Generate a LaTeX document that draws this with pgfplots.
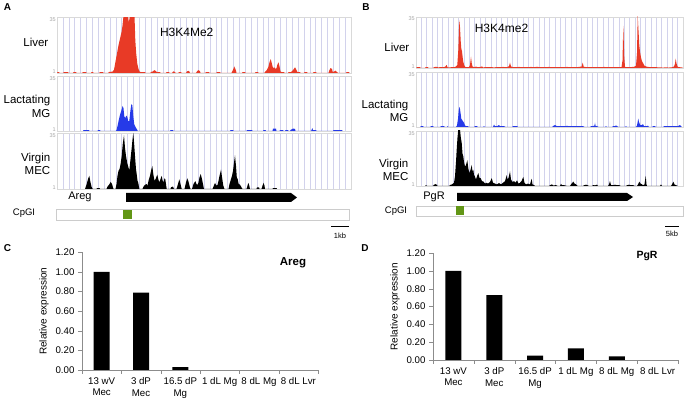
\documentclass[border=0pt]{standalone}
\usepackage{fontspec}
\setmainfont{Liberation Sans}
\usepackage{pgfplots}
\pgfplotsset{compat=1.18}
\definecolor{gridlav}{RGB}{210,210,236}
\definecolor{trkred}{RGB}{232,58,38}
\definecolor{trkblue}{RGB}{38,58,232}
\definecolor{cpggreen}{RGB}{98,150,22}
\pgfplotsset{
  track/.style={scale only axis, anchor=south west,
    ymin=0, ymax=34, ytick={1,32.6}, yticklabels={1,35},
    xticklabels={}, major tick length=0pt,
    axis line style={draw=black!15},
    xmajorgrids, grid style={draw=gridlav, line width=0.5pt},
    yticklabel style={font=\fontsize{5.5}{6}\selectfont, text=black!35, inner sep=1pt}},
  barax/.style={scale only axis, anchor=south west,
    xmin=-0.5, xmax=5.5, ymin=0, ymax=1.2,
    axis x line*=bottom, axis y line*=left,
    axis line style={draw=black!45,-},
    ytick={0,0.2,0.4,0.6,0.8,1.0,1.2},
    /pgf/number format/assume math mode=true,
    yticklabel style={/pgf/number format/fixed, /pgf/number format/fixed zerofill,
      /pgf/number format/precision=2, font=\fontsize{9.7}{11}\selectfont},
    tick align=outside, major tick length=4pt, tick style={draw=black!45},
    xtick={0,...,5},
    xticklabels={{13 wV\\Mec},{3 dP\\Mec},{16.5 dP\\Mg},{1 dL Mg},{8 dL Mg},{8 dL Lvr}},
    xticklabel style={align=center, font=\fontsize{9.7}{11.5}\selectfont},
    x tick style={draw=none},
    extra x ticks={-0.5,0.5,1.5,2.5,3.5,4.5,5.5}, extra x tick labels={},
    extra x tick style={x tick style={draw=black!45}},
    ylabel={Relative expression}, ylabel style={font=\fontsize{10}{12}\selectfont},
    ybar, bar width=16pt}
}
\begin{document}
\begin{tikzpicture}
\path[use as bounding box] (0,0) rectangle (687pt,403pt);

% ---------- panel A tracks ----------
\begin{axis}[track, at={(57pt,330pt)}, width=294pt, height=55.5pt,
  xmin=57, xmax=351, xtick={62.88,68.76,...,346}]
\addplot[fill=trkred, draw=none] coordinates {
(57,0)(57.5,0.6)(59,0.6)(59.5,0)(63,0)(64,0.6)(68,0.6)(68.5,0)
(73,0)(73.5,0.6)(76,0.6)(76.5,0)(82,0)(83,0.6)(86,0.6)(86.5,0)
(91,0)(91.5,0.6)(93,0.6)(93.5,0)(99,0)(100,0.6)(103,0.6)(103.5,0)
(108,0)(109,0.6)(112,0.8)
(112.5,0.8)(114,2)(115.5,7)(117,12)(118.5,17)(120,21)(121.5,25)(122.5,29)(123.5,35)
(128,35)(128.8,31)(130,35)(134.5,35)(135.3,20)(136.2,12)(137.3,5.6)(138.5,2.5)(139.5,1)
(140.5,0.6)(142,0.6)(145,0.6)(145.5,0)
(150,0)(151,0.6)(153,1)(154.5,1.8)(156,1)(157,0.6)(160,0.6)(160.5,0)
(166,0)(166.5,0.6)(169,0.6)(169.5,0)(172,0)(173.3,1)(175,0.6)(175.5,0)
(178,0)(179,0.6)(181,0.6)(181.5,0)(186,0)(187,1)(189,1.3)(190,0)
(196,0)(197,1)(198.5,1.8)(200,1)(200.5,0)(205,0)(206,0.6)(209,0.6)(209.5,0)
(216,0)(217,0.6)(220,0.6)(220.5,0)
(231.5,0)(232.7,1.5)(234.3,4)(236,1.5)(236.5,0)
(242,0)(242.5,0.6)(245,0.6)(245.5,0)(255,0)(255.5,0.6)(258,0.6)(258.5,0)
(264,0)(265,0.6)(267,2)(268.5,4)(269.5,6.5)(270.7,8.5)(272,5.5)(273,3)(274.3,3.5)
(275.5,2.5)(276.5,3)(277.3,5)(278.5,6.5)(279.5,4)(280.5,1)(281.5,0.6)(284,0.6)(284.5,0)
(288,0)(288.5,0.6)(291,0.6)(293.3,2)(295,3.5)(296.7,1.5)(297.5,0.6)(300,0.6)(300.5,0)
(304,0)(304.5,0.6)(307,0.6)(307.5,0)(313,0)(313.5,0.6)(316,0.6)(316.5,0)
(328.5,0)(329.3,1.5)(330.5,3)(332,2.5)(332.7,0.6)(334.5,1)(335.5,1.5)(337,0.6)(338,0)
(346,0)(346.5,0.6)(349,0.6)(349.5,0)
} \closedcycle;
\end{axis}

\begin{axis}[track, at={(57pt,272pt)}, width=294pt, height=55pt,
  xmin=57, xmax=351, xtick={62.88,68.76,...,346}]
\addplot[fill=trkblue, draw=none] coordinates {
(83,0)(83.5,0.6)(89,0.6)(89.5,0)(97.5,0)(98,0.6)(100,0.6)(100.5,0)
(115.5,0)(116.5,0.5)(117.5,3)(118.5,6)(120,10)(121.5,13)(122.7,15.5)(123.5,14)(124.3,9)
(125.3,8)(126.3,9.5)(127.3,8.7)(128.3,6)(129.3,6.2)(130.3,12)(131.3,16.5)(132.3,16)
(133.3,9)(134.3,4)(135.5,2.5)(136.5,1.5)(137.3,0.6)(137.8,0)
(170,0)(170.5,0.6)(173,0.6)(173.5,0)(230,0)(230.5,0.6)(233,0.6)(233.5,0)
(246.5,0)(247,0.6)(252,0.6)(252.5,0)(263,0)(263.5,0.6)(265.5,0.6)(266,0)
(272.5,0)(273,1.5)(276,1.5)(276.5,0)(279.5,0)(280,0.6)(283,0.6)(283.5,0)
(285,0)(285.5,0.6)(288,0.6)(288.5,0)(290,0)(290.5,0.6)(293,1.5)(295,1.3)(295.5,0)
(311,0)(311.5,0.6)(312.3,1.8)(313,0.6)(316,0.6)(316.5,0)
(333,0)(333.5,0.6)(342,0.6)(342.5,0)
} \closedcycle;
\end{axis}

\begin{axis}[track, at={(57pt,214pt)}, width=294pt, height=56pt,
  xmin=57, xmax=351, xtick={62.88,68.76,...,346}]
\addplot[fill=black, draw=none] coordinates {
(85,0)(86.7,3)(88,6)(89.3,8)(90.5,4)(91.5,1.5)(92.7,0)
(96.5,0)(97,0.6)(99.5,0.6)(100,0)
(106.5,0)(107.5,1.5)(109,2.5)(110.7,4.3)(112,3)(113.5,0)
(115.5,0)(116.5,3)(117.5,8)(118.5,11)(119.5,12)(120.7,15.6)(121.7,20)(122.7,27)(124,32.6)
(125,25)(126,20)(127.3,15.6)(128.5,13)(129.3,11.3)(130.5,18)(131.7,25)(132.5,30)(133.3,34)
(134.2,27)(135,20)(136,12)(136.7,9)(137.5,5)(138.3,3.7)(139.3,0)
(142.5,0)(143.5,1.5)(145,2.5)(146.5,3)(147.5,2)(148.5,5)(150,8)(151,11)(152.3,14)(153.3,9)
(154.5,5)(155.5,6)(157.3,8.7)(158.3,6)(159.3,4)(160.5,6)(161.7,8)(162.7,5)(163.5,4)
(164.5,6.5)(165.3,6)(166.2,2)(166.7,0)
(170.5,0)(171,1)(173,1.5)(174,0)
(176.5,0)(178,3)(179.3,5.9)(180.5,3)(181.7,0)
(184.5,0)(186,4)(187.3,6.5)(188.5,4.5)(189.5,2)(190.5,0)
(192,0)(193.5,3)(195.3,4.8)(196.5,3)(197.5,2.5)(198.5,4)(199.5,7)(200.7,9.1)(202,6)(203.3,2)(204,0)
(212.5,0)(213.5,1.5)(215,3.7)(216.5,2)(217.5,2.5)(218.5,5)(219.5,8)(221,11.7)(222.3,6)(223.3,2)(224.5,0)
(228.5,0)(229.5,3)(231,6)(232,8)(233,11)(234,16)(235,20.4)(236,14)(236.8,7)(237.7,6)(238.7,3)
(240,2.6)(241.5,1)(242.5,0)
(246.5,0)(247.5,2)(248.3,3.7)(249.3,2)(250,0)
(256.5,0)(257,1)(259,1)(259.5,0)(261.5,0)(262.5,2)(263.5,3.7)(264.5,2)(265,0)
(272.5,0)(273,0.6)(276.5,0.6)(277,0)
} \closedcycle;
\end{axis}

% ---------- panel B tracks ----------
\begin{axis}[track, at={(416pt,335pt)}, width=267pt, height=51pt,
  xmin=416, xmax=683, xtick={421.34,426.68,...,679}]
\addplot[fill=trkred, draw=none] coordinates {
(416,0)(417,0.5)(420,0.5)(421,0)(425,0)(425.5,0.5)(428,0.5)(428.5,0)
(433,0)(434,0.6)(437,0.8)(438,0.4)(441,0.6)(443,0.5)(445,0.8)(446.7,2)(447.5,0.5)(450,0.4)
(452,0.6)(454,0.5)(456,1)(457.3,2)(458.3,12)(459.3,32)(460,27)(460.7,18)(461.3,13)(462,11)
(462.7,7)(463.3,4)(464.2,2)(465,0.8)(467,0.5)(469,0.6)(470,2)(471,7.5)(471.8,3)(472.5,1)
(474,0.5)(476,0.9)(478,0.5)(480,0.7)(482,1)(483,0.4)(486,0.6)(488,0.5)(491,0.6)(494,0.4)
(497,0.6)(500,0.5)(503,0.7)(506,0.5)(508,0.8)(509,1.2)(510,3.6)(511,1)(513,0.6)(516,0.5)
(519,0.7)(522,0.5)(525,0.6)(528,0.5)(531,0.7)(534,0.5)(537,0.8)(540,0.5)(543,0.6)(546,0.5)
(549,0.7)(552,0.5)(555,0.6)(558,0.5)(561,0.6)(564,0.5)(567,0.7)(570,0.5)(573,0.6)(576,0.5)
(579,0.7)(581.7,1)(582.7,3.6)(583.7,0.8)(586,0.6)(589,0.5)(592,0.6)(595,0.5)(598,0.6)
(601,0.5)(604,0.7)(607,0.5)(610,0.6)(613,0.5)(616,0.6)(619,0.5)(621.5,0.6)(622.5,5)
(623.3,28)(624.2,8)(625,0.7)(628,0.5)(631,0.6)(634,0.8)(636,1.5)(637,10)(637.7,35)
(638.5,25)(639.3,15)(640,10.9)(641,7)(642,4.5)(643.3,3)(644.5,1.5)(646,1)(648,0.7)(651,0.5)
(654,0.6)(657,0.5)(660,0.4)(663,0.3)(666,0.4)(669,0.3)(672,0.5)(674,1)(675,3)(675.7,6.3)
(676.5,3)(677.5,1)(678.5,0.6)(680,0.5)(682,0.4)(683,0)
} \closedcycle;
\end{axis}

\begin{axis}[track, at={(416pt,276pt)}, width=267pt, height=55pt,
  xmin=416, xmax=683, xtick={421.34,426.68,...,679}]
\addplot[fill=trkblue, draw=none] coordinates {
(420,0)(421,0.5)(423,0.5)(424,0)(430,0)(431,0.5)(433,0.5)(434,0)(440,0)(441,0.5)(444,0.5)(445,0)
(447,0)(447.5,0.6)(448,0)
(456,0)(457,1)(458,5)(458.7,10)(459.3,12.5)(460,11)(460.7,8)(461.3,5)(462,4.5)(463,3.5)
(464,2.7)(465,1)(466,0.5)(468,0.5)(469,0)
(474,0)(475,0.5)(477,0.5)(478,0)(483,0)(484,0.5)(485,0)(493,0)(494,1.5)(495,0.5)(497,0.5)
(499,1.2)(500,0.5)(502,0.6)(504,0.5)(506,0)
(512,0)(513,0.6)(515,0.5)(517,0.6)(518,0)
(552,0)(553,0.6)(555,1.2)(557,0.5)(559,0.6)(561,0.5)(563,0.6)(565,0.5)(567,0.7)(569,0.5)
(571,0.6)(573,0.5)(575,0.6)(577,0.5)(579,0.6)(581,0.5)(583,0.5)(585,0)
(590,0)(591,0.5)(593,0.5)(594.5,1)(595,2.7)(595.5,0.8)(597,0.5)(599,0)
(605,0)(606,0.5)(607,0)(612,0)(613,0.6)(615,0.5)(616,1)(617,0.5)(619,0)
(625,0)(626,0.5)(627,0)
(636,0)(637,1)(638.3,5.2)(639,3)(640,1.5)(641,1)(643,1.7)(644,0.5)(646,0.5)(648,0.8)(649,0)
(652,0)(653,0.5)(655,0.5)(656,0)
(663,0)(664,0.5)(667,0.5)(670,0.5)(673,0.6)(676,0.5)(678,0.6)(680,1.2)(681,0.5)(682,0)
} \closedcycle;
\end{axis}

\begin{axis}[track, at={(416pt,217pt)}, width=267pt, height=55pt,
  xmin=416, xmax=683, xtick={421.34,426.68,...,679}]
\addplot[fill=black, draw=none] coordinates {
(425,0)(426,0.6)(427,0)(433,0)(434,0.8)(436,1.2)(437,0.4)(438,0)
(449,0)(450,0.6)(452,1)(454,2)(455,6)(456,15)(456.7,22.5)(457.5,30)(458.3,35)(460,35)
(460.8,30)(461.7,26.7)(462.5,20)(463.3,18.3)(464,15)(465,12)(466,13)(467.3,16)(468.3,11)
(469.3,8)(470.5,10)(471.7,13)(472.5,9)(473.3,10)(474,7)(475,5.8)(476,4)(477,6)(478.3,8)
(479.5,5)(480.7,4.8)(482,3)(483.5,2.7)(485,1.5)(486.5,2)(488,1.5)(490,2.5)(491.7,4.8)
(493,2)(495,1.5)(497,1)(499,1.8)(501,1)(503,2)(505,3)(506.7,6.7)(507.5,4)(508.5,5)(510,9)
(511,4)(512.5,2.5)(514,3)(515.5,2)(517,3.5)(518.5,1.5)(520,2)(521.5,3)(523.3,5.6)(524.5,2)
(526,1)(528,1.5)(530,1)(531.7,4.5)(532.5,1)(534,0.6)(535,0)
(549,0)(550,0.5)(552,1)(553,0.4)(556,0.5)(558,0)
(560,0)(561,1.3)(562,0.5)(563,0.6)(565,0.4)(567,0)(570,0)(571,1)(573.3,2.7)(574.5,1.5)
(576,1)(577,0.4)(578,0)
(583,0)(584,0.5)(586,0.8)(588,0.4)(589,0)(592,0)(593,0.6)(595,0.4)(597,0.8)(598,0)
(608,0)(609,1)(610,3)(611,0.6)(613,0.5)(615,0.8)(617,0.5)(619,0.6)(621,0)
(626,0)(627,0.5)(629,0.8)(631,0.5)(633,0.6)(635,0)
(637,0)(638,1)(639.3,2.7)(640.5,1.5)(642,1)(643,0.5)(644.5,1)(645.7,6.2)(646.5,1)(647,0)
(660,0)(661,1)(662,0)(671,0)(672,1)(673.3,2.7)(674.5,1)(676,0.5)(678,0)
} \closedcycle;
\end{axis}

% ---------- panel C / D bar charts (zero-valued categories left empty) ----------
\begin{axis}[barax, at={(82pt,33pt)}, width=236pt, height=117.6pt]
\addplot[fill=black, draw=none] coordinates {(0,1.00)(1,0.79)(2,0.03)};
\end{axis}

\begin{axis}[barax, at={(433pt,43pt)}, width=245pt, height=106.8pt]
\addplot[fill=black, draw=none] coordinates {(0,1.00)(1,0.73)(2,0.05)(3,0.13)(4,0.04)};
\end{axis}

% ---------- labels and gene annotations ----------
\begin{scope}[every node/.style={inner sep=0pt}]
\node[font=\bfseries\fontsize{10}{12}\selectfont] at (7.5pt,395.5pt) {A};
\node[font=\bfseries\fontsize{10}{12}\selectfont] at (366pt,395.5pt) {B};
\node[font=\bfseries\fontsize{10}{12}\selectfont] at (7.5pt,155pt) {C};
\node[font=\bfseries\fontsize{10}{12}\selectfont] at (365pt,155pt) {D};

\node[anchor=east, font=\fontsize{11.5}{13.5}\selectfont] at (48.5pt,360.3pt) {Liver};
\node[anchor=east, align=right, font=\fontsize{11.5}{13.5}\selectfont] at (50.5pt,296.5pt) {Lactating\\MG};
\node[anchor=east, align=right, font=\fontsize{11.5}{13.5}\selectfont] at (50.5pt,239.3pt) {Virgin\\MEC};
\node[font=\fontsize{12}{14}\selectfont] at (186.7pt,371pt) {H3K4Me2};

\node[anchor=east, font=\fontsize{11.5}{13.5}\selectfont] at (409.5pt,355.3pt) {Liver};
\node[anchor=east, align=right, font=\fontsize{11.5}{13.5}\selectfont] at (408.5pt,292pt) {Lactating\\MG};
\node[anchor=east, align=right, font=\fontsize{11.5}{13.5}\selectfont] at (408.5pt,233pt) {Virgin\\MEC};
\node[font=\fontsize{12}{14}\selectfont] at (501.5pt,375pt) {H3K4me2};

\node[font=\fontsize{11}{13}\selectfont] at (80pt,206pt) {Areg};
\node[font=\fontsize{11}{13}\selectfont] at (434pt,206.3pt) {PgR};
\node[font=\fontsize{9.5}{11}\selectfont] at (24pt,190.3pt) {CpGI};
\node[font=\fontsize{9.5}{11}\selectfont] at (396pt,192pt) {CpGI};

\node[font=\bfseries\fontsize{11.5}{13}\selectfont] at (293pt,140pt) {Areg};
\node[font=\bfseries\fontsize{10.5}{12}\selectfont] at (647pt,147pt) {PgR};

\node[font=\fontsize{7.5}{9}\selectfont] at (340pt,167pt) {1kb};
\node[font=\fontsize{7.5}{9}\selectfont] at (672pt,169pt) {5kb};
\end{scope}

\fill[black] (126pt,210pt) -- (291pt,210pt) -- (297pt,205.5pt) -- (291pt,201pt) -- (126pt,201pt) -- cycle;
\fill[black] (457pt,210pt) -- (627pt,210pt) -- (633pt,206pt) -- (627pt,202pt) -- (457pt,202pt) -- cycle;
\draw[black!20, fill=white] (56pt,183pt) rectangle (349pt,194pt);
\fill[cpggreen] (123pt,184pt) rectangle (132pt,193pt);
\draw[black!20, fill=white] (416pt,187pt) rectangle (683pt,197pt);
\fill[cpggreen] (456pt,188pt) rectangle (464pt,197pt);
\draw[black, line width=0.8pt] (331pt,177pt) -- (349pt,177pt);
\draw[black, line width=0.8pt] (665pt,177pt) -- (679pt,177pt);
\end{tikzpicture}
\end{document}
